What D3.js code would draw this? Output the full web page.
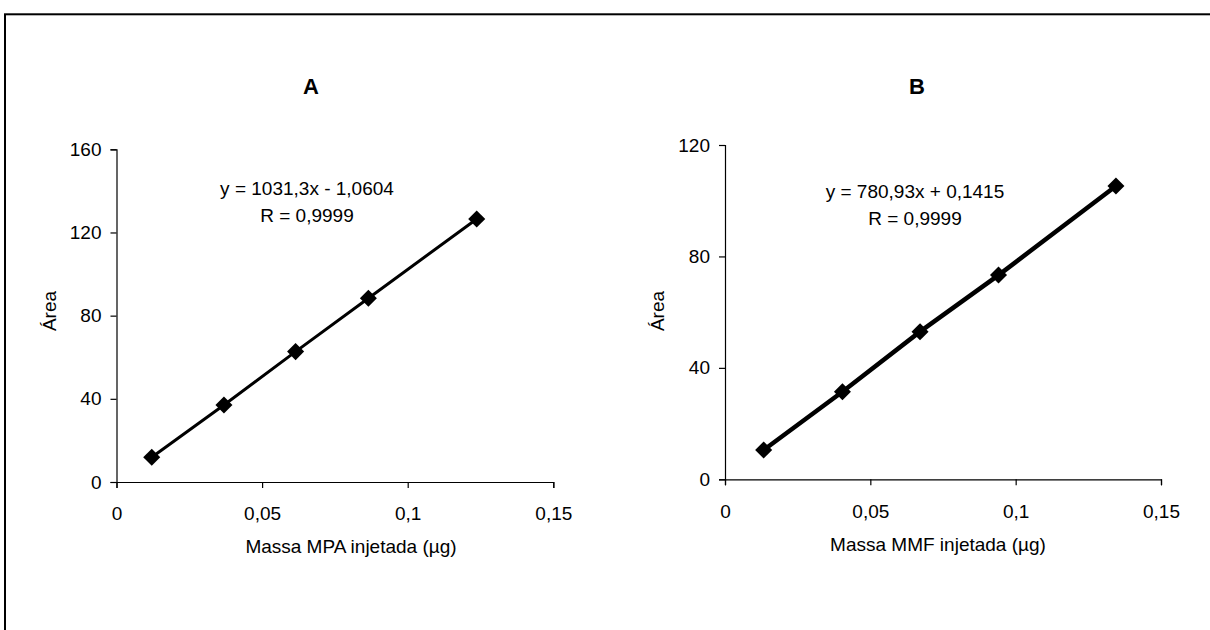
<!DOCTYPE html>
<html>
<head>
<meta charset="utf-8">
<script src="https://cdn.jsdelivr.net/npm/d3@7"></script>
<style>
  html, body { margin: 0; padding: 0; background: #fff; }
  svg { display: block; }
  text { font-family: "Liberation Sans", Arial, sans-serif; fill: #000; }
</style>
</head>
<body>
<svg id="chart" width="1210" height="630"></svg>
<script>
// ---- data ----
const massA = [0.0121, 0.0369, 0.0615, 0.0865, 0.1237];
const areaA = [11.9, 37.0, 62.7, 88.4, 126.5];
const massB = [0.0133, 0.0404, 0.0671, 0.0941, 0.1345];
const areaB = [10.5, 31.4, 53.0, 73.3, 105.3];

const xTicks = [0, 0.05, 0.1, 0.15];
const xTickLabels = ["0", "0,05", "0,1", "0,15"];
const yTicksA = [0, 40, 80, 120, 160];
const yTicksB = [0, 40, 80, 120];

const titles = ["A", "B"];
const xTitles = ["Massa MPA injetada (µg)", "Massa MMF injetada (µg)"];
const yTitle = "Área";
const eqLines = [["y = 1031,3x - 1,0604", "R = 0,9999"], ["y = 780,93x + 0,1415", "R = 0,9999"]];

// ---- layout ----
const svg = d3.select("#chart");
svg.append("rect").attr("x", 5).attr("y", 14.3).attr("width", 1400).attr("height", 800)
  .attr("fill", "none").attr("stroke", "#000").attr("stroke-width", 2);

const panels = [
  { mass: massA, area: areaA, yTicks: yTicksA, yMax: 160, x0: 116.5, x1: 553.3, y0: 482, y1: 149.3,
    titleX: 311, titleY: 94, eqX: 307, eqY: 195, xTitleX: 351, xTitleY: 553, yTitleX: 56, yTitleY: 311, lw: 3 },
  { mass: massB, area: areaB, yTicks: yTicksB, yMax: 120, x0: 725, x1: 1161, y0: 479.3, y1: 145,
    titleX: 917, titleY: 94, eqX: 915, eqY: 198, xTitleX: 938, xTitleY: 551, yTitleX: 664, yTitleY: 311, lw: 4.5 }
];

panels.forEach((p, i) => {
  const x = d3.scaleLinear().domain([0, 0.15]).range([p.x0, p.x1]);
  const y = d3.scaleLinear().domain([0, p.yMax]).range([p.y0, p.y1]);
  const g = svg.append("g");

  // x axis
  const xAxis = d3.axisBottom(x).tickValues(xTicks).tickSize(6).tickPadding(19)
    .tickFormat((d, k) => xTickLabels[k]);
  const gx = g.append("g").attr("transform", `translate(0,${p.y0})`).call(xAxis);
  gx.selectAll("path, line").attr("stroke", "#000").attr("stroke-width", 1.2);
  gx.selectAll("text").style("font-size", "19px").attr("fill", "#000")
    .style("font-family", '"Liberation Sans", Arial, sans-serif');

  // y axis
  const yAxis = d3.axisLeft(y).tickValues(p.yTicks).tickSize(6).tickPadding(9)
    .tickFormat(d3.format("d"));
  const gy = g.append("g").attr("transform", `translate(${p.x0},0)`).call(yAxis);
  gy.selectAll("path, line").attr("stroke", "#000").attr("stroke-width", 1.2);
  gy.selectAll("text").style("font-size", "19px").attr("fill", "#000")
    .style("font-family", '"Liberation Sans", Arial, sans-serif');

  // line
  const pts = p.mass.map((m, k) => [m, p.area[k]]);
  g.append("path").datum(pts)
    .attr("fill", "none").attr("stroke", "#000").attr("stroke-width", p.lw)
    .attr("d", d3.line().x(d => x(d[0])).y(d => y(d[1])));

  // markers
  g.selectAll(".m").data(pts).enter().append("path")
    .attr("transform", d => `translate(${x(d[0])},${y(d[1])})`)
    .attr("d", d3.symbol().type(d3.symbolDiamond2).size(185))
    .attr("fill", "#000");

  // title
  g.append("text").attr("x", p.titleX).attr("y", p.titleY).attr("text-anchor", "middle")
    .style("font-size", "22px").style("font-weight", "bold").text(titles[i]);

  // equation
  eqLines[i].forEach((t, k) => {
    g.append("text").attr("x", p.eqX).attr("y", p.eqY + k * 27).attr("text-anchor", "middle")
      .style("font-size", "19px").text(t);
  });

  // axis titles
  g.append("text").attr("x", p.xTitleX).attr("y", p.xTitleY).attr("text-anchor", "middle")
    .style("font-size", "19px").text(xTitles[i]);
  g.append("text").attr("transform", `translate(${p.yTitleX},${p.yTitleY}) rotate(-90)`)
    .attr("text-anchor", "middle").style("font-size", "19px").text(yTitle);
});
</script>
</body>
</html>
